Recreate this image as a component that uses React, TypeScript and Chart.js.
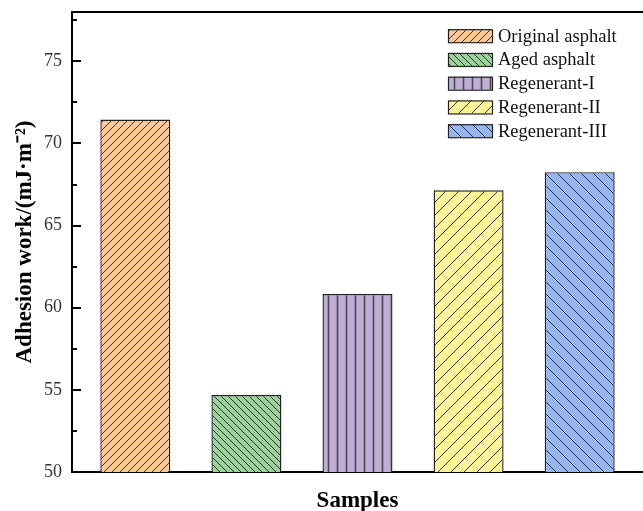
import React, { useEffect, useRef } from "react";
import { Chart, registerables } from "chart.js";

Chart.register(...registerables);

const categories = ["Original asphalt", "Aged asphalt", "Regenerant-I", "Regenerant-II", "Regenerant-III"];
const positions = [1, 2, 3, 4, 5];
const adhesionWork = [71.45, 54.68, 60.83, 67.15, 68.25];
const yTicksMajor = [50, 55, 60, 65, 70, 75];

const fillColors = ["#FDC896", "#9AD49A", "#C0AED8", "#FFF59A", "#98B6F2"];
const hatchKinds = ["fwd", "back", "vert", "fwd", "back"];
const hatchSpacing = [8, 7, 9, 13, 12];

function makePattern(bg: string, kind: string, s: number): CanvasPattern | string {
  const c = document.createElement("canvas");
  c.width = s;
  c.height = s;
  const g = c.getContext("2d");
  if (!g) return bg;
  g.fillStyle = bg;
  g.fillRect(0, 0, s, s);
  g.strokeStyle = kind === "vert" ? "#4a4a4a" : "#333333";
  g.lineWidth = kind === "vert" ? 1.6 : 1;
  g.beginPath();
  if (kind === "fwd") {
    g.moveTo(0, s); g.lineTo(s, 0);
    g.moveTo(-1, 1); g.lineTo(1, -1);
    g.moveTo(s - 1, s + 1); g.lineTo(s + 1, s - 1);
  } else if (kind === "back") {
    g.moveTo(0, 0); g.lineTo(s, s);
    g.moveTo(-1, s - 1); g.lineTo(1, s + 1);
    g.moveTo(s - 1, -1); g.lineTo(s + 1, 1);
  } else {
    g.moveTo(s / 2, 0); g.lineTo(s / 2, s);
  }
  g.stroke();
  const p = g.createPattern(c, "repeat");
  return p || bg;
}

const FONT = "'Liberation Serif', 'Times New Roman', serif";

const framePlugin = {
  id: "frameAndTicks",
  afterDraw(chart: any) {
    const { ctx, chartArea, scales } = chart;
    const y = scales.y;
    ctx.save();
    ctx.strokeStyle = "#000";
    ctx.lineWidth = 2;
    ctx.beginPath();
    ctx.moveTo(chartArea.left - 1, chartArea.top);
    ctx.lineTo(chartArea.right + 10, chartArea.top);
    ctx.stroke();
    // inward ticks (major + minor)
    for (let v = y.min; v <= y.max + 1e-9; v += 2.5) {
      if (v === y.min) continue;
      const py = Math.round(y.getPixelForValue(v));
      const major = yTicksMajor.includes(v) || Math.abs(v % 5) < 1e-9;
      ctx.beginPath();
      ctx.moveTo(chartArea.left, py);
      ctx.lineTo(chartArea.left + (major ? 9 : 5), py);
      ctx.stroke();
    }
    // legend
    const ds = chart.data.datasets[0];
    const labels = chart.data.labels as string[];
    const sx = 448, sw = 44, sh = 13, y0 = 35.7, step = 23.75;
    ctx.font = `18.5px ${FONT}`;
    ctx.textBaseline = "middle";
    ctx.textAlign = "left";
    labels.forEach((lab, i) => {
      const cy = y0 + i * step;
      ctx.fillStyle = ds.backgroundColor[i];
      ctx.fillRect(sx, cy - sh / 2, sw, sh);
      ctx.strokeStyle = "#222";
      ctx.lineWidth = 1.2;
      ctx.strokeRect(sx + 0.5, cy - sh / 2 + 0.5, sw, sh);
      ctx.fillStyle = "#111";
      ctx.fillText(lab, 498, cy + 1);
    });
    ctx.restore();
  },
};

export default function App() {
  const ref = useRef<HTMLCanvasElement | null>(null);
  useEffect(() => {
    if (!ref.current) return;
    const patterns = fillColors.map((c, i) => makePattern(c, hatchKinds[i], hatchSpacing[i]));
    const chart = new Chart(ref.current, {
      type: "bar",
      data: {
        labels: categories,
        datasets: [
          {
            label: "Adhesion work",
            data: positions.map((x, i) => ({ x, y: adhesionWork[i] })),
            backgroundColor: patterns as any,
            borderColor: "#222",
            borderWidth: 1.4,
            borderSkipped: false,
            barPercentage: 0.63,
            categoryPercentage: 1,
          },
        ],
      },
      options: {
        responsive: false,
        animation: false,
        layout: { padding: { top: 12, right: 7, left: 0, bottom: 0 } },
        plugins: { legend: { display: false }, tooltip: { enabled: false } },
        scales: {
          x: {
            type: "linear",
            offset: false,
            min: 0.43,
            max: 5.57,
            ticks: { display: false, stepSize: 1, includeBounds: false },
            grid: { drawOnChartArea: false, drawTicks: false },
            border: { display: true, color: "#000", width: 2 },
            title: {
              display: true,
              text: "Samples",
              color: "#000",
              font: { family: FONT, size: 23, weight: "bold", lineHeight: 1 },
              padding: { top: 0, bottom: -1.5 },
            },
            afterFit: (s: any) => { s.height = 39; s.paddingLeft = 0; s.paddingRight = 0; },
          },
          y: {
            min: 50,
            max: 78,
            ticks: {
              stepSize: 5,
              color: "#333",
              padding: 10,
              font: { family: FONT, size: 18 },
              callback: (v: any) => (yTicksMajor.includes(Number(v)) ? String(v) : ""),
            },
            grid: { drawOnChartArea: false, drawTicks: false },
            border: { display: true, color: "#000", width: 2 },
            title: {
              display: true,
              text: "Adhesion work/(mJ·m⁻²)",
              color: "#000",
              font: { family: FONT, size: 23, weight: "bold", lineHeight: 1 },
              padding: { top: 13.5, bottom: 0 },
            },
            afterFit: (s: any) => { s.width = 72; s.paddingTop = 0; s.paddingBottom = 0; },
          },
        },
      },
      plugins: [framePlugin],
    });
    return () => chart.destroy();
  }, []);
  return (
    <div style={{ position: "fixed", left: 0, top: 0, width: 643, height: 511, overflow: "hidden", background: "#fff" }}>
      <canvas ref={ref} width={650} height={511} style={{ width: 650, height: 511, display: "block" }} />
    </div>
  );
}
